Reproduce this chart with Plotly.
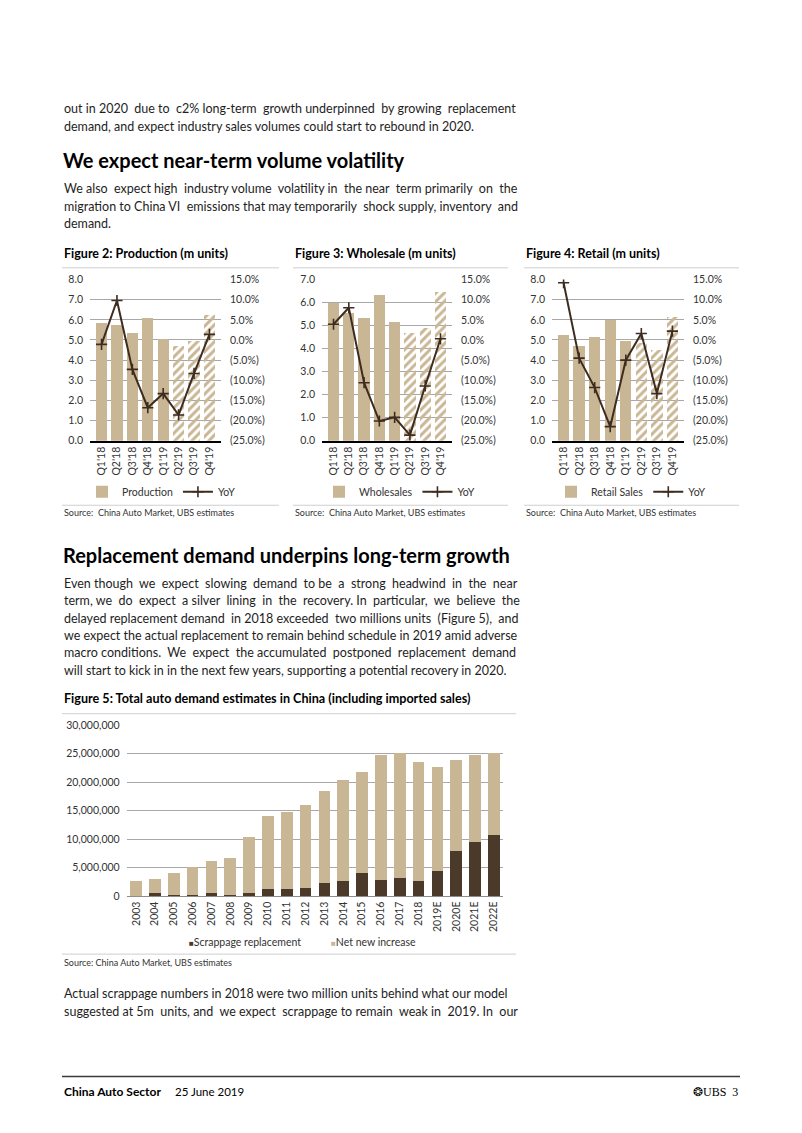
import plotly.graph_objects as go

W, H = 802, 1133
# the captured page comes out very slightly squeezed vertically; these two
# numbers map a target pixel row onto the row to request
Y_SCALE, Y_SHIFT = 0.9897, 5.1


def X(px):
    return px / W


def Y(py):
    return 1 - ((py - Y_SHIFT) / Y_SCALE) / H


# ---------------- data ----------------
quarters = ["Q1'18", "Q2'18", "Q3'18", "Q4'18", "Q1'19", "Q2'19", "Q3'19", "Q4'19"]
forecast = [False, False, False, False, False, True, True, True]

production = [5.86, 5.73, 5.33, 6.07, 5.05, 4.70, 4.95, 6.24]
production_yoy = [-1.1, 9.8, -7.3, -16.8, -13.3, -18.6, -8.3, 1.4]

wholesale = [5.99, 5.56, 5.34, 6.32, 5.15, 4.66, 4.90, 6.46]
wholesale_yoy = [3.9, 8.0, -10.6, -20.1, -19.2, -23.6, -11.4, 0.3]

retail = [5.23, 4.70, 5.17, 5.97, 4.95, 4.85, 4.50, 6.14]
retail_yoy = [14.2, -4.5, -11.8, -21.5, -5.0, 1.6, -13.3, 2.2]

years = ["2003", "2004", "2005", "2006", "2007", "2008", "2009", "2010", "2011",
         "2012", "2013", "2014", "2015", "2016", "2017", "2018", "2019E", "2020E",
         "2021E", "2022E"]
scrappage_replacement = [100000, 550000, 200000, 300000, 500000, 300000, 500000,
                         1300000, 1350000, 1500000, 2300000, 2750000, 4000000,
                         2900000, 3150000, 2750000, 4400000, 7900000, 9600000,
                         10800000]
net_new_increase = [2500000, 2400000, 3800000, 4800000, 5700000, 6400000, 9950000,
                    12800000, 13450000, 14550000, 16100000, 17650000, 17700000,
                    21850000, 21950000, 20850000, 18200000, 15900000, 15150000,
                    14300000]

yoy_ticks = [15, 10, 5, 0, -5, -10, -15, -20, -25]

# ---------------- styles ----------------
TAN = "#C9B694"
DARK = "#4B3A2A"
LINE = "#3E2C20"
GRID = "#A8A8A8"
TXT = "#1E1E1E"
AX = "#333333"
BODY = "Lato"


def pct_label(v):
    return f"{v:.1f}%" if v >= 0 else f"({-v:.1f}%)"


fig = go.Figure()

charts = [
    dict(name="Production", vals=production, yoy=production_yoy, ymax=8,
         x0=90, x1=221, leg="legend", legx=82),
    dict(name="Wholesales", vals=wholesale, yoy=wholesale_yoy, ymax=7,
         x0=322, x1=452, leg="legend2", legx=319),
    dict(name="Retail Sales", vals=retail, yoy=retail_yoy, ymax=8,
         x0=552, x1=684, leg="legend3", legx=551),
]

layout_axes = {}
legends = {}
for i, c in enumerate(charts, start=1):
    xn = "x" if i == 1 else f"x{i}"
    yl = 2 * i - 1
    yr = 2 * i
    yln = "y" if yl == 1 else f"y{yl}"
    yrn = f"y{yr}"
    fig.add_trace(go.Bar(
        x=quarters, y=c["vals"], xaxis=xn, yaxis=yln, name=c["name"],
        legend=c["leg"],
        marker=dict(color=TAN, line=dict(width=0),
                    pattern=dict(shape=["/" if f else "" for f in forecast],
                                 fillmode="replace", size=6, solidity=0.5)),
    ))
    fig.add_trace(go.Scatter(
        x=quarters, y=c["yoy"], xaxis=xn, yaxis=yrn, name="YoY", legend=c["leg"],
        mode="lines+markers",
        line=dict(color=LINE, width=2),
        marker=dict(symbol="cross-thin", size=8, color=LINE,
                    line=dict(color=LINE, width=1.6)),
    ))
    xkey = "xaxis" if i == 1 else f"xaxis{i}"
    layout_axes[xkey] = dict(
        domain=[X(c["x0"]), X(c["x1"])], anchor=yln, type="category",
        tickangle=-90, tickfont=dict(size=10.5, color=AX), showline=True,
        linecolor="#000000", linewidth=1.5, ticks="", showgrid=False,
    )
    ylkey = "yaxis" if yl == 1 else f"yaxis{yl}"
    layout_axes[ylkey] = dict(
        domain=[Y(440), Y(278.7)], anchor=xn, range=[0, c["ymax"]], dtick=1,
        tickformat=".1f", showgrid=True, gridcolor=GRID, gridwidth=1,
        zeroline=False, showline=False, ticks="", tickfont=dict(size=10.5, color=AX),
        ticklabelstandoff=6,
    )
    layout_axes[f"yaxis{yr}"] = dict(
        overlaying=yln, side="right", anchor=xn, range=[-25, 15],
        tickvals=yoy_ticks, ticktext=[pct_label(v) for v in yoy_ticks],
        showgrid=False, zeroline=False, showline=False, ticks="",
        tickfont=dict(size=10.5, color=AX), ticklabelstandoff=8,
    )
    legends[c["leg"]] = dict(
        orientation="h", x=X(c["legx"]), y=Y(491), xanchor="left", yanchor="middle",
        font=dict(size=10.5, color=AX), bgcolor="rgba(0,0,0,0)", traceorder="normal",
    )

# Figure 5
fig.add_trace(go.Bar(
    x=years, y=scrappage_replacement, xaxis="x4", yaxis="y7",
    name="Scrappage replacement", showlegend=False,
    marker=dict(color=DARK, line=dict(width=0)),
))
fig.add_trace(go.Bar(
    x=years, y=net_new_increase, xaxis="x4", yaxis="y7",
    name="Net new increase", showlegend=False,
    marker=dict(color=TAN, line=dict(width=0)),
))
layout_axes["xaxis4"] = dict(
    domain=[X(126.7), X(503.3)], anchor="y7", type="category", tickangle=-90,
    tickfont=dict(size=10.5, color=AX), showline=True, linecolor="#8C8C8C",
    linewidth=1, ticks="", showgrid=False,
)
layout_axes["yaxis7"] = dict(
    domain=[Y(895.7), Y(724.3)], anchor="x4", range=[0, 30000000], dtick=5000000,
    tickformat=",d", showgrid=True, gridcolor=GRID, gridwidth=1, zeroline=False,
    showline=False, ticks="", tickfont=dict(size=10.5, color=AX), ticklabelstandoff=6,
)

# ---------------- text ----------------
ann = []


def text(s, px, py, size=12.5, bold=False, color=TXT, family=BODY, anchor="left"):
    ann.append(dict(
        text=f"<b>{s}</b>" if bold else s, x=X(px), y=Y(py), xref="paper",
        yref="paper", xanchor=anchor, yanchor="middle", showarrow=False,
        font=dict(size=size, color=color, family=family), align=anchor,
    ))


def justify(line, extra):
    """Widen the word gaps of a line with extra non-breaking spaces."""
    words = line.split(" ")
    gaps = len(words) - 1
    if extra <= 0 or gaps <= 0:
        return line
    base, rem = divmod(extra, gaps)
    out = words[0]
    for g in range(gaps):
        n = base + (1 if (g * rem) // gaps != ((g + 1) * rem) // gaps else 0)
        out += " " + "\u00a0" * n + words[g + 1]
    return out


intro = [
    "out in 2020 due to c2% long-term growth underpinned by growing replacement",
    "demand, and expect industry sales volumes could start to rebound in 2020.",
]
intro_pad = [5, 0]
for k, s in enumerate(intro):
    text(justify(s, intro_pad[k]), 62, 108 + 17.5 * k)

text("We expect near-term volume volatility", 61, 159, size=20, bold=True, color="#000")
para1 = [
    "We also expect high industry volume volatility in the near term primarily on the",
    "migration to China VI emissions that may temporarily shock supply, inventory and",
    "demand.",
]
para1_pad = [7, 3, 0]
for k, s in enumerate(para1):
    text(justify(s, para1_pad[k]), 62, 188 + 17.5 * k)

text("Figure 2: Production (m units)", 62, 252.5, size=12.5, bold=True, color="#000")
text("Figure 3: Wholesale (m units)", 293, 252.5, size=12.5, bold=True, color="#000")
text("Figure 4: Retail (m units)", 524, 252.5, size=12.5, bold=True, color="#000")
for sx in (62, 293, 524):
    text("Source:  China Auto Market, UBS estimates", sx, 512, size=9, color=AX)

text("Replacement demand underpins long-term growth", 61, 554, size=20, bold=True, color="#000")
para2 = [
    "Even though we expect slowing demand to be a strong headwind in the near",
    "term, we do expect a silver lining in the recovery. In particular, we believe the",
    "delayed replacement demand in 2018 exceeded two millions units (Figure 5), and",
    "we expect the actual replacement to remain behind schedule in 2019 amid adverse",
    "macro conditions. We expect the accumulated postponed replacement demand",
    "will start to kick in in the next few years, supporting a potential recovery in 2020.",
]
para2_pad = [11, 11, 4, 0, 6, 0]
for k, s in enumerate(para2):
    text(justify(s, para2_pad[k]), 62, 582.5 + 17.4 * k)

text("Figure 5: Total auto demand estimates in China (including imported sales)", 62, 698,
     size=12.6, bold=True, color="#000")
# figure 5 legend (small square keys as in the original)
text(f"<span style='color:{DARK};font-size:8px'>\u25A0</span>Scrappage replacement",
     187, 941, size=10.5, color=AX)
text(f"<span style='color:{TAN};font-size:8px'>\u25A0</span>Net new increase",
     329, 941, size=10.5, color=AX)
text("Source: China Auto Market, UBS estimates", 62, 962, size=9, color=AX)

para3 = [
    "Actual scrappage numbers in 2018 were two million units behind what our model",
    "suggested at 5m units, and we expect scrappage to remain weak in 2019. In our",
]
para3_pad = [0, 6]
for k, s in enumerate(para3):
    text(justify(s, para3_pad[k]), 62, 993 + 18 * k)

text("China Auto Sector", 62, 1091, size=12, bold=True, color="#000")
text("25 June 2019", 173, 1091, size=11.5, color="#000")
text("\u2742UBS  3", 740, 1091, size=12, color="#000", family="Liberation Serif", anchor="right")

# ---------------- rules ----------------
shapes = []


def hline(x0, x1, py, color, width):
    shapes.append(dict(type="line", xref="paper", yref="paper", x0=X(x0), x1=X(x1),
                       y0=Y(py), y1=Y(py), line=dict(color=color, width=width)))


for sx, ex in ((62, 279), (293, 508), (524, 739)):
    hline(sx, ex, 267, "#CFCFCF", 1)
    hline(sx, ex, 504.5, "#CFCFCF", 1)
hline(62, 516, 713, "#CFCFCF", 1)
hline(62, 516, 953.5, "#CFCFCF", 1)
hline(62, 740, 1076, "#3A3A3A", 1.5)

fig.update_layout(
    width=W, height=H, margin=dict(l=0, r=0, t=0, b=0, pad=0),
    paper_bgcolor="white", plot_bgcolor="white",
    font=dict(family=BODY, color=TXT),
    barmode="stack", bargap=0.27,
    annotations=ann, shapes=shapes, showlegend=True,
    **layout_axes, **legends,
)
fig.update_traces(selector=dict(xaxis="x4"), width=0.62)

fig.write_html(
    "out.html",
    config={"displayModeBar": False},
    post_script="document.body.style.margin='0';document.body.style.overflow='hidden';",
)
